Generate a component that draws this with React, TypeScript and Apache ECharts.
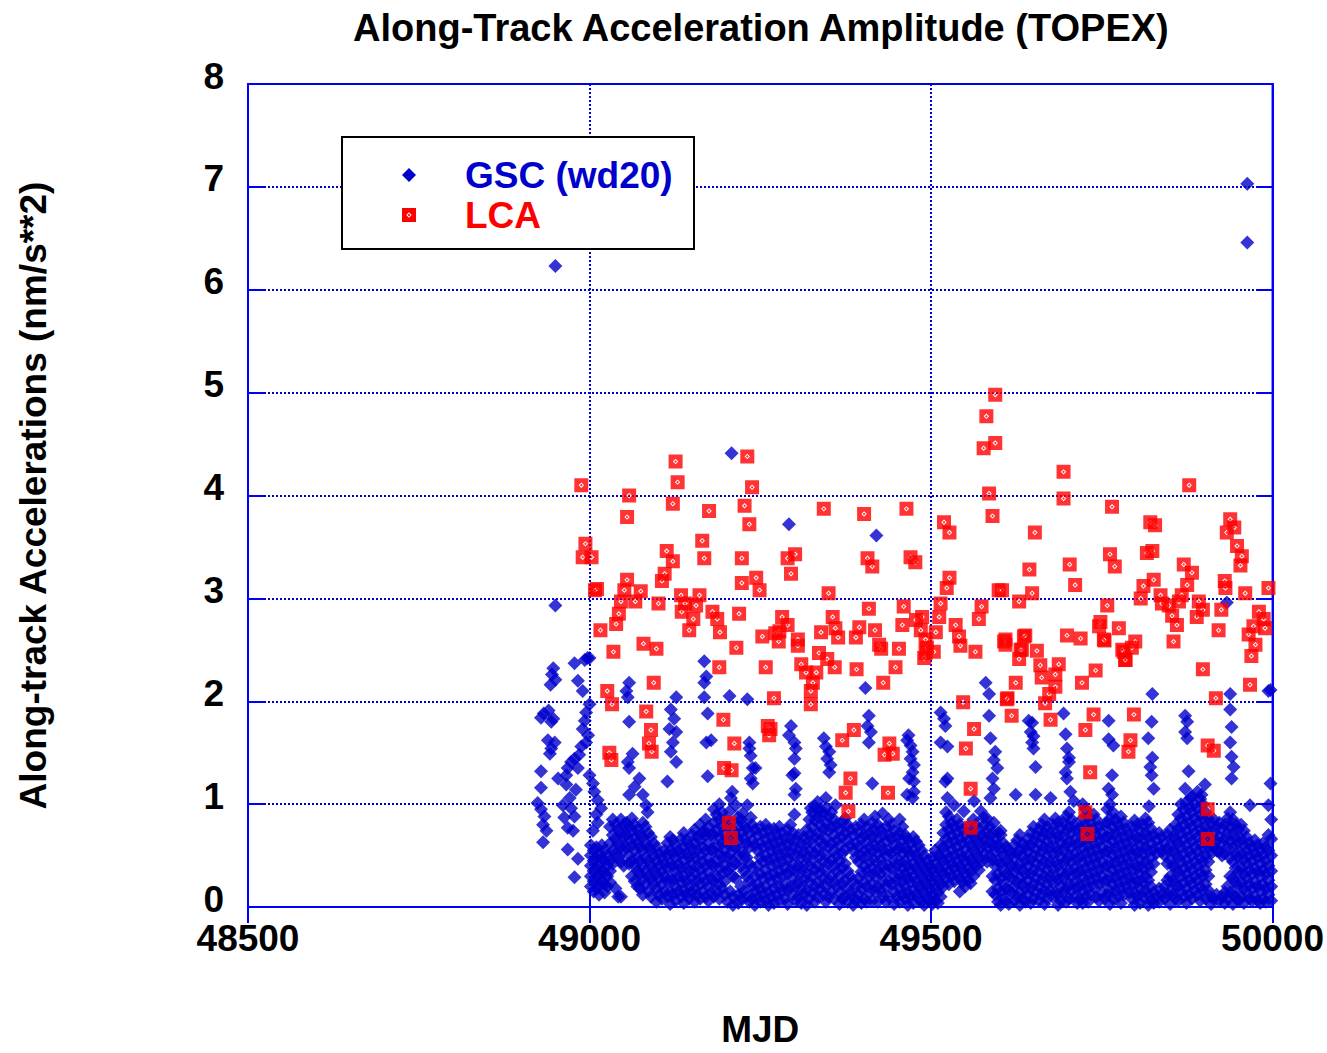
import React, { useEffect, useRef } from "react";
import * as echarts from "echarts";

const FONT = "'Liberation Sans', Arial, Helvetica, sans-serif";
const TITLE = "Along-Track Acceleration Amplitude (TOPEX)";
const X_NAME = "MJD";
const Y_NAME = "Along-track Accelerations (nm/s**2)";
const X_MIN = 48500;
const X_MAX = 50000;
const X_STEP = 500;
const Y_MIN = 0;
const Y_MAX = 8;
const Y_STEP = 1;
const SERIES_NAMES = ["GSC (wd20)", "LCA"];

// GSC (wd20): isolated and mid-band points [MJD, value]
const gscSparse: [number, number][] = [
  [48950, 6.23], [48950, 2.93], [49963, 7.03], [49963, 6.46], [49208, 4.41], [49292, 3.72], [49420, 3.61],
  [49933, 2.96], [49997, 2.11], [49997, 1.2], [49404, 2.13],
  [48947, 2.32], [48945, 2.26], [48950, 2.21], [48943, 2.16], [48933, 1.88], [48940, 1.91], [48947, 1.83],
  [48929, 1.84], [48944, 1.8], [48939, 1.62], [48949, 1.6], [48944, 1.54], [48942, 1.49], [48929, 1.32],
  [48929, 1.16], [48924, 1.01], [48929, 0.95], [48934, 0.88], [48932, 0.8], [48937, 0.74], [48932, 0.63],
  [48978, 2.37], [48997, 2.42], [48983, 2.2], [48990, 2.1], [48954, 1.25], [48966, 1.28], [48966, 1.19],
  [48980, 1.14], [48971, 1.06], [48961, 0.99], [48973, 0.96], [48963, 0.87], [48978, 0.88], [48968, 0.77],
  [48976, 0.74], [48968, 0.56], [48983, 0.47], [48978, 0.29],
  [49000, 2.42], [48993, 2.4], [49000, 1.97], [48995, 1.89], [48993, 1.81], [48990, 1.73], [48998, 1.67],
  [48995, 1.6], [48988, 1.56], [48985, 1.48], [48978, 1.44], [48973, 1.41], [48968, 1.35], [48983, 1.35],
  [49000, 1.28], [49005, 1.2], [49007, 1.12], [49012, 1.04], [49017, 0.96], [49010, 0.9], [49012, 0.82], [49005, 0.74],
  [49058, 2.18], [49054, 2.1], [49056, 2.04], [49058, 1.8], [49063, 1.49], [49056, 1.41], [49058, 1.35],
  [49073, 1.25], [49066, 1.17], [49058, 1.09], [49078, 1.09], [49083, 0.99], [49085, 0.92],
  [49127, 2.04], [49119, 1.92], [49124, 1.83], [49117, 1.73], [49127, 1.7], [49122, 1.6], [49119, 1.51],
  [49127, 1.41], [49114, 1.22],
  [49168, 2.39], [49171, 2.24], [49168, 2.18], [49168, 2.04], [49173, 1.88], [49171, 1.6], [49178, 1.62],
  [49173, 1.27], [49168, 0.74],
  [49205, 2.05], [49231, 2.02], [49234, 1.6], [49234, 1.54], [49236, 1.47], [49243, 1.35], [49239, 1.35],
  [49236, 1.25], [49239, 1.2], [49207, 1.06], [49209, 1.12], [49214, 0.99], [49205, 0.93], [49217, 0.87],
  [49231, 0.99], [49224, 0.91], [49236, 0.87],
  [49295, 1.76], [49292, 1.67], [49300, 1.6], [49302, 1.54], [49300, 1.44], [49300, 1.3], [49297, 1.28],
  [49302, 1.15], [49300, 1.09], [49300, 0.9],
  [49343, 1.64], [49346, 1.56], [49351, 1.51], [49348, 1.44], [49353, 1.38], [49351, 1.31], [49346, 1.06],
  [49324, 0.96], [49336, 0.93], [49360, 0.99],
  [49409, 1.86], [49407, 1.76], [49412, 1.7], [49409, 1.6], [49414, 1.2], [49429, 0.91],
  [49467, 1.67], [49465, 1.62], [49470, 1.57], [49473, 1.51], [49470, 1.44], [49475, 1.38], [49473, 1.31],
  [49468, 1.25], [49475, 1.22], [49475, 1.12], [49465, 1.09], [49473, 1.06],
  [49514, 1.89], [49519, 1.83], [49521, 1.76], [49514, 1.6], [49524, 1.56], [49524, 1.25], [49521, 1.22],
  [49524, 1.06], [49534, 0.99], [49548, 0.93], [49563, 1.03], [49573, 0.93], [49577, 0.87], [49592, 0.82], [49602, 0.74],
  [49580, 2.18], [49585, 2.07], [49585, 1.86], [49587, 1.64], [49594, 1.51], [49592, 1.43], [49597, 1.35],
  [49590, 1.25], [49592, 1.15], [49587, 1.06],
  [49643, 1.81], [49648, 1.79], [49646, 1.7], [49650, 1.66], [49648, 1.6], [49650, 1.54], [49653, 1.36],
  [49624, 1.09], [49653, 1.09], [49675, 1.06],
  [49694, 1.88], [49697, 1.68], [49699, 1.54], [49702, 1.45], [49702, 1.41], [49697, 1.31], [49699, 1.25],
  [49704, 1.12], [49709, 1.03],
  [49824, 2.07], [49938, 2.07], [49994, 2.1], [49760, 1.81], [49760, 1.63], [49767, 1.57], [49765, 1.28],
  [49760, 1.15], [49765, 1.09],
  [49823, 1.8], [49818, 1.64], [49824, 1.45], [49821, 1.36], [49823, 1.28], [49826, 1.15], [49819, 0.98],
  [49872, 1.86], [49875, 1.8], [49872, 1.7], [49875, 1.64], [49877, 1.32], [49872, 1.15], [49880, 1.06],
  [49901, 1.19], [49896, 1.09],
  [49938, 1.92], [49940, 1.75], [49938, 1.6], [49940, 1.46], [49943, 1.36], [49940, 1.25], [49967, 0.99], [49994, 0.99],
];

// GSC (wd20): dense low band, [MJD, values at that MJD]
const gscBand1993: [number, number[]][] = [
  [49002, [0.6, 0.5, 0.4, 0.3, 0.2]], [49006, [0.55, 0.45, 0.35, 0.25, 0.15]], [49010, [0.58, 0.48, 0.38, 0.28, 0.18]],
  [49014, [0.52, 0.42, 0.32, 0.22, 0.12]], [49018, [0.6, 0.47, 0.35, 0.25]], [49022, [0.55, 0.45, 0.33, 0.22, 0.14]],
  [49026, [0.5, 0.4, 0.3, 0.2]], [49030, [0.78, 0.62, 0.45, 0.35, 0.24]], [49034, [0.85, 0.7, 0.55, 0.42]],
  [49038, [0.8, 0.66, 0.52, 0.18]], [49042, [0.75, 0.62, 0.48, 0.1]], [49046, [0.85, 0.72, 0.58, 0.44, 0.1]],
  [49050, [0.8, 0.68, 0.55, 0.4]], [49054, [0.82, 0.7, 0.58]], [49058, [0.78, 0.65, 0.5, 0.42]],
  [49062, [0.86, 0.74, 0.6, 0.45, 0.3]], [49066, [0.8, 0.67, 0.55, 0.4, 0.25]], [49070, [0.75, 0.62, 0.48, 0.35, 0.2]],
  [49074, [0.7, 0.58, 0.45, 0.32, 0.18]], [49078, [0.82, 0.68, 0.55, 0.4, 0.27, 0.12]], [49082, [0.78, 0.62, 0.48, 0.35, 0.22]],
  [49086, [0.72, 0.58, 0.45, 0.3, 0.15]], [49090, [0.68, 0.55, 0.4, 0.27, 0.1]], [49094, [0.62, 0.5, 0.36, 0.22]],
  [49098, [0.58, 0.45, 0.32, 0.18, 0.05]], [49102, [0.52, 0.4, 0.28, 0.12]], [49106, [0.48, 0.35, 0.22, 0.08]],
  [49110, [0.55, 0.42, 0.3, 0.15]], [49114, [0.62, 0.5, 0.38, 0.25, 0.1]], [49118, [0.68, 0.55, 0.42, 0.28, 0.15, 0.03]],
  [49122, [0.65, 0.52, 0.4, 0.26, 0.12]], [49126, [0.6, 0.48, 0.35, 0.2, 0.06]], [49130, [0.55, 0.42, 0.3, 0.15]],
  [49134, [0.66, 0.52, 0.38, 0.24, 0.1]], [49138, [0.72, 0.58, 0.45, 0.3, 0.16, 0.04]], [49142, [0.65, 0.52, 0.38, 0.25, 0.12]],
  [49146, [0.6, 0.48, 0.35, 0.2, 0.08]], [49150, [0.7, 0.56, 0.42, 0.28, 0.14]], [49154, [0.75, 0.62, 0.48, 0.33, 0.18, 0.05]],
  [49158, [0.68, 0.55, 0.4, 0.26, 0.12]], [49162, [0.8, 0.65, 0.5, 0.36, 0.22, 0.08]], [49166, [0.72, 0.58, 0.44, 0.3, 0.15]],
  [49170, [0.85, 0.7, 0.55, 0.4, 0.25, 0.1]], [49174, [0.78, 0.62, 0.48, 0.34, 0.2, 0.06]], [49178, [0.7, 0.56, 0.42, 0.28, 0.14]],
  [49182, [0.95, 0.82, 0.7, 0.55, 0.4, 0.25, 0.1]], [49186, [0.9, 0.75, 0.6, 0.45, 0.3, 0.15]],
  [49190, [1.0, 0.85, 0.68, 0.52, 0.38, 0.22, 0.08]], [49194, [0.92, 0.78, 0.62, 0.48, 0.32, 0.18]],
  [49198, [0.85, 0.7, 0.55, 0.4, 0.25, 0.12]], [49202, [0.78, 0.62, 0.48, 0.35, 0.05]], [49206, [0.82, 0.68, 0.52, 0.38, 0.15]],
  [49210, [0.75, 0.6, 0.45, 0.3, 0.1, 0.02]], [49214, [0.7, 0.58, 0.42, 0.28]], [49218, [0.78, 0.65, 0.5, 0.12, 0.04]],
  [49222, [0.85, 0.72, 0.55, 0.4, 0.2, 0.08]], [49226, [0.8, 0.66, 0.5, 0.35, 0.15]], [49230, [0.76, 0.62, 0.48, 0.3, 0.1]],
  [49234, [0.72, 0.58, 0.42, 0.25, 0.05]], [49238, [0.8, 0.65, 0.38, 0.2, 0.08]], [49242, [0.75, 0.6, 0.3, 0.15, 0.02]],
  [49246, [0.7, 0.55, 0.4, 0.22, 0.1]], [49250, [0.78, 0.62, 0.48, 0.32, 0.18, 0.05]], [49254, [0.72, 0.58, 0.44, 0.28, 0.12]],
  [49258, [0.8, 0.66, 0.5, 0.36, 0.2, 0.06]], [49262, [0.75, 0.6, 0.46, 0.3, 0.14, 0.02]], [49266, [0.68, 0.55, 0.4, 0.25, 0.1]],
  [49270, [0.76, 0.62, 0.48, 0.32, 0.18, 0.04]], [49274, [0.7, 0.56, 0.42, 0.28, 0.12]], [49278, [0.78, 0.64, 0.5, 0.35, 0.2, 0.06]],
  [49282, [0.72, 0.58, 0.44, 0.3, 0.15]], [49286, [0.66, 0.52, 0.38, 0.22, 0.08]], [49290, [0.75, 0.6, 0.46, 0.32, 0.16, 0.03]],
  [49294, [0.8, 0.66, 0.52, 0.36, 0.2]], [49298, [0.72, 0.58, 0.42, 0.28, 0.12]], [49302, [0.65, 0.5, 0.35, 0.2, 0.06]],
  [49306, [0.7, 0.56, 0.4, 0.25, 0.1]], [49310, [0.62, 0.48, 0.34, 0.18, 0.04]], [49314, [0.68, 0.54, 0.4, 0.26, 0.12]],
  [49318, [0.75, 0.62, 0.48, 0.32, 0.16, 0.02]], [49322, [0.85, 0.7, 0.55, 0.4, 0.24, 0.08]],
  [49326, [0.92, 0.78, 0.62, 0.46, 0.3, 0.14]], [49330, [0.98, 0.84, 0.68, 0.52, 0.36, 0.2, 0.05]],
  [49334, [1.02, 0.88, 0.72, 0.56, 0.4, 0.24, 0.1]], [49338, [0.95, 0.8, 0.65, 0.5, 0.34, 0.18]],
  [49342, [0.9, 0.75, 0.6, 0.44, 0.28, 0.12]], [49346, [0.96, 0.82, 0.66, 0.5, 0.35, 0.2, 0.05]],
  [49350, [0.88, 0.74, 0.58, 0.42, 0.26, 0.1]],
];

const gscBand1994: [number, number[]][] = [
  [49354, [0.92, 0.78, 0.62, 0.46, 0.3, 0.15]], [49358, [0.85, 0.7, 0.55, 0.4, 0.24, 0.08]], [49362, [0.8, 0.65, 0.5, 0.35, 0.2]],
  [49366, [0.75, 0.6, 0.45, 0.3, 0.14, 0.03]], [49370, [0.82, 0.68, 0.52, 0.38, 0.22, 0.08]],
  [49374, [0.86, 0.72, 0.56, 0.42, 0.26, 0.1]], [49378, [0.8, 0.65, 0.35, 0.18, 0.05]], [49382, [0.75, 0.6, 0.3, 0.14]],
  [49386, [0.7, 0.55, 0.25, 0.1, 0.02]], [49390, [0.78, 0.62, 0.48, 0.2, 0.06]], [49394, [0.72, 0.58, 0.44, 0.28, 0.12]],
  [49398, [0.8, 0.66, 0.5, 0.34, 0.18, 0.04]], [49402, [0.85, 0.7, 0.55, 0.4, 0.24, 0.08]],
  [49406, [0.78, 0.64, 0.5, 0.35, 0.2, 0.05]], [49410, [0.72, 0.58, 0.44, 0.3, 0.14]],
  [49414, [0.82, 0.68, 0.54, 0.38, 0.22, 0.06]], [49418, [0.88, 0.74, 0.6, 0.45, 0.3, 0.15]],
  [49422, [0.8, 0.66, 0.52, 0.36, 0.2, 0.05]], [49426, [0.75, 0.6, 0.46, 0.32, 0.16]], [49430, [0.7, 0.55, 0.4, 0.25, 0.1]],
  [49434, [0.78, 0.64, 0.5, 0.35, 0.2, 0.05]], [49438, [0.85, 0.7, 0.55, 0.4, 0.25, 0.1]], [49442, [0.8, 0.66, 0.52, 0.38, 0.22]],
  [49446, [0.74, 0.6, 0.45, 0.3, 0.15, 0.03]], [49450, [0.68, 0.55, 0.4, 0.26, 0.1]],
  [49454, [0.85, 0.72, 0.58, 0.45, 0.32, 0.18, 0.05]], [49458, [0.78, 0.65, 0.52, 0.38, 0.25, 0.12]],
  [49462, [0.7, 0.58, 0.45, 0.32, 0.2, 0.08]], [49466, [0.66, 0.54, 0.4, 0.28, 0.14, 0.02]], [49470, [0.62, 0.5, 0.36, 0.24, 0.1]],
  [49474, [0.68, 0.55, 0.42, 0.3, 0.16, 0.04]], [49478, [0.64, 0.5, 0.38, 0.25, 0.12]], [49482, [0.6, 0.46, 0.34, 0.2, 0.08]],
  [49486, [0.55, 0.42, 0.3, 0.18, 0.05]], [49490, [0.5, 0.38, 0.26, 0.14, 0.02]], [49494, [0.45, 0.34, 0.22, 0.1]],
  [49498, [0.4, 0.3, 0.18, 0.06]], [49502, [0.48, 0.36, 0.24, 0.12, 0.03]], [49506, [0.55, 0.42, 0.3, 0.18, 0.06]],
  [49510, [0.5, 0.38, 0.26, 0.14, 0.04]], [49514, [0.6, 0.48, 0.35, 0.22, 0.1]], [49518, [0.72, 0.58, 0.45, 0.32, 0.2]],
  [49522, [0.92, 0.8, 0.66, 0.52, 0.4, 0.28]], [49526, [0.88, 0.75, 0.62, 0.48, 0.35, 0.22]], [49530, [0.82, 0.7, 0.56, 0.42, 0.3]],
  [49534, [0.78, 0.64, 0.5, 0.38, 0.25]], [49538, [0.85, 0.72, 0.58, 0.44, 0.32]], [49542, [0.8, 0.66, 0.52, 0.4, 0.28, 0.15]],
  [49546, [0.75, 0.62, 0.48, 0.36, 0.24]], [49550, [0.7, 0.56, 0.44, 0.32, 0.2]], [49554, [0.78, 0.64, 0.5, 0.38, 0.26]],
  [49558, [0.72, 0.6, 0.46, 0.34, 0.23]], [49562, [0.85, 0.7, 0.56, 0.42, 0.3]], [49566, [0.8, 0.66, 0.52, 0.4]],
  [49570, [0.75, 0.62, 0.48, 0.36]], [49574, [0.7, 0.58, 0.44]], [49578, [0.8, 0.66, 0.52]], [49582, [0.86, 0.72, 0.58, 0.44]],
  [49586, [0.78, 0.64, 0.5]], [49590, [0.72, 0.6, 0.46, 0.3, 0.15]], [49594, [0.66, 0.54, 0.4, 0.26, 0.12]],
  [49598, [0.72, 0.6, 0.45, 0.32, 0.18, 0.05]], [49602, [0.7, 0.55, 0.42, 0.28, 0.14, 0.02]], [49606, [0.62, 0.5, 0.36, 0.22, 0.08]],
  [49610, [0.58, 0.46, 0.32, 0.18, 0.05]], [49614, [0.55, 0.42, 0.3, 0.16, 0.03]], [49618, [0.52, 0.4, 0.28, 0.14]],
  [49622, [0.6, 0.48, 0.34, 0.2, 0.06]], [49626, [0.65, 0.52, 0.38, 0.24, 0.1]], [49630, [0.7, 0.56, 0.42, 0.28, 0.14, 0.02]],
  [49634, [0.62, 0.5, 0.36, 0.22, 0.08]], [49638, [0.58, 0.45, 0.32, 0.18, 0.05]], [49642, [0.66, 0.54, 0.4, 0.26, 0.12]],
  [49646, [0.72, 0.6, 0.46, 0.32, 0.18, 0.04]], [49650, [0.78, 0.64, 0.5, 0.36, 0.22, 0.08]], [49654, [0.7, 0.56, 0.42, 0.28, 0.14]],
  [49658, [0.75, 0.62, 0.48, 0.34, 0.2, 0.06]], [49662, [0.8, 0.68, 0.54, 0.4, 0.26, 0.12]],
  [49666, [0.85, 0.72, 0.58, 0.44, 0.3, 0.16, 0.03]], [49670, [0.78, 0.64, 0.5, 0.36, 0.22, 0.08]],
  [49674, [0.72, 0.58, 0.44, 0.3, 0.16]], [49678, [0.8, 0.66, 0.52, 0.38, 0.24, 0.1]], [49682, [0.86, 0.72, 0.58, 0.44, 0.3, 0.14]],
  [49686, [0.82, 0.68, 0.54, 0.4, 0.26, 0.12, 0.02]], [49690, [0.76, 0.62, 0.48, 0.34, 0.2, 0.06]],
  [49694, [0.82, 0.68, 0.55, 0.42, 0.28, 0.14]], [49698, [0.88, 0.74, 0.6, 0.46, 0.32, 0.18, 0.05]],
  [49702, [0.92, 0.78, 0.64, 0.5, 0.36, 0.22, 0.08]], [49706, [0.85, 0.72, 0.58, 0.44, 0.3, 0.16]],
  [49710, [0.8, 0.66, 0.52, 0.38, 0.24, 0.1]], [49714, [0.74, 0.6, 0.46, 0.32, 0.18, 0.04]],
];

const gscBand1995: [number, number[]][] = [
  [49718, [0.78, 0.64, 0.5, 0.36, 0.22, 0.08]], [49722, [1.0, 0.86, 0.72, 0.58, 0.44, 0.3, 0.16, 0.04]],
  [49726, [0.95, 0.8, 0.66, 0.52, 0.38, 0.24, 0.1]], [49730, [0.88, 0.74, 0.6, 0.46, 0.32, 0.18, 0.05]],
  [49734, [0.82, 0.68, 0.54, 0.4, 0.26, 0.12]], [49738, [0.9, 0.76, 0.62, 0.48, 0.34, 0.2]],
  [49742, [0.85, 0.7, 0.56, 0.42, 0.28, 0.1]], [49746, [0.78, 0.64, 0.5, 0.36, 0.22, 0.06]], [49750, [0.72, 0.58, 0.44, 0.3, 0.14]],
  [49754, [0.8, 0.66, 0.52, 0.38, 0.24, 0.08]], [49758, [0.95, 0.82, 0.68, 0.54, 0.4, 0.26, 0.12]],
  [49762, [1.0, 0.86, 0.72, 0.58, 0.44, 0.3, 0.16, 0.03]], [49766, [0.92, 0.78, 0.64, 0.5, 0.36, 0.22, 0.08]],
  [49770, [0.85, 0.72, 0.58, 0.44, 0.3, 0.16]], [49774, [0.8, 0.66, 0.52, 0.38, 0.24, 0.1]],
  [49778, [0.88, 0.74, 0.6, 0.46, 0.32, 0.18, 0.04]], [49782, [0.82, 0.68, 0.54, 0.4, 0.26, 0.12]],
  [49786, [0.76, 0.62, 0.48, 0.34, 0.2]], [49790, [0.7, 0.56, 0.42, 0.28, 0.14]], [49794, [0.78, 0.64, 0.5, 0.36, 0.22, 0.08]],
  [49798, [0.84, 0.7, 0.56, 0.42, 0.28, 0.14, 0.02]], [49802, [0.8, 0.66, 0.52, 0.38, 0.24, 0.1]],
  [49806, [0.74, 0.6, 0.46, 0.32, 0.18, 0.04]], [49810, [0.8, 0.66, 0.52, 0.38, 0.24, 0.1]],
  [49814, [0.86, 0.72, 0.58, 0.44, 0.3, 0.16]], [49818, [0.82, 0.68, 0.54, 0.4, 0.26, 0.12, 0.02]],
  [49822, [0.76, 0.62, 0.48, 0.34, 0.2, 0.06]], [49826, [0.7, 0.56, 0.42, 0.14, 0.04]], [49830, [0.65, 0.52, 0.1]],
  [49834, [0.72, 0.58, 0.18, 0.05]], [49838, [0.68, 0.54, 0.12]], [49842, [0.62, 0.5, 0.2, 0.08]],
  [49846, [0.7, 0.56, 0.42, 0.26, 0.12]], [49850, [0.75, 0.6, 0.46, 0.3, 0.16, 0.03]], [49854, [0.68, 0.55, 0.4, 0.26, 0.12]],
  [49858, [0.8, 0.66, 0.52, 0.38, 0.22, 0.08]], [49862, [0.9, 0.76, 0.62, 0.48, 0.34, 0.2, 0.06]],
  [49866, [1.0, 0.86, 0.72, 0.58, 0.44, 0.3, 0.15]], [49870, [0.95, 0.8, 0.66, 0.52, 0.38, 0.24, 0.1]],
  [49874, [1.02, 0.88, 0.74, 0.6, 0.46, 0.32, 0.18, 0.04]], [49878, [0.96, 0.82, 0.68, 0.54, 0.4, 0.26, 0.12]],
  [49882, [1.08, 0.92, 0.78, 0.64, 0.5, 0.36, 0.22, 0.08]], [49886, [1.0, 0.86, 0.72, 0.58, 0.44, 0.3, 0.16]],
  [49890, [1.12, 0.96, 0.82, 0.68, 0.54, 0.4, 0.26, 0.12]], [49894, [1.05, 0.9, 0.76, 0.62, 0.48, 0.34, 0.2, 0.06]],
  [49898, [1.0, 0.86, 0.72, 0.58, 0.44, 0.3, 0.16]], [49902, [0.92, 0.78, 0.64, 0.5, 0.36, 0.22, 0.08]],
  [49906, [0.86, 0.72, 0.58, 0.44, 0.3, 0.16]], [49910, [0.8, 0.66, 0.52, 0.1, 0.03]], [49914, [0.85, 0.72, 0.58, 0.08]],
  [49918, [0.78, 0.64, 0.55, 0.12]], [49922, [0.82, 0.68, 0.54, 0.06]], [49926, [0.76, 0.62, 0.5, 0.1]],
  [49930, [0.8, 0.66, 0.52, 0.14, 0.04]], [49934, [0.86, 0.72, 0.58, 0.2, 0.08]], [49938, [0.92, 0.78, 0.64, 0.48, 0.3, 0.14]],
  [49942, [0.85, 0.72, 0.58, 0.44, 0.28, 0.12, 0.03]], [49946, [0.8, 0.66, 0.52, 0.38, 0.24, 0.1]],
  [49950, [0.75, 0.62, 0.48, 0.34, 0.2, 0.06]], [49954, [0.8, 0.66, 0.52, 0.38, 0.24, 0.1]],
  [49958, [0.74, 0.6, 0.46, 0.32, 0.18, 0.04]], [49962, [0.68, 0.55, 0.42, 0.28, 0.14]], [49966, [0.62, 0.5, 0.36, 0.22, 0.08]],
  [49970, [0.58, 0.45, 0.32, 0.18, 0.06]], [49974, [0.65, 0.52, 0.38, 0.24, 0.1]], [49978, [0.6, 0.48, 0.34, 0.2, 0.06]],
  [49982, [0.55, 0.42, 0.3, 0.16, 0.04]], [49986, [0.62, 0.5, 0.36, 0.22, 0.08]], [49990, [0.58, 0.45, 0.32, 0.18, 0.05]],
  [49994, [0.7, 0.55, 0.4, 0.26, 0.12]], [49998, [0.85, 0.66, 0.5, 0.35, 0.2, 0.06]],
];

// LCA points [MJD, value]
const lca1993: [number, number][] = [
  [48988, 4.1], [48994, 3.53], [48990, 3.4], [49003, 3.4], [49011, 3.09], [49008, 3.08], [49016, 2.69], [49035, 2.48],
  [49026, 2.1], [49033, 1.97], [49029, 1.5], [49032, 1.43],
  [49058, 4.0], [49055, 3.79], [49126, 4.33], [49129, 4.13], [49122, 3.92], [49175, 3.85], [49231, 4.38], [49238, 4.08],
  [49227, 3.9], [49234, 3.72], [49165, 3.56], [49168, 3.39], [49113, 3.46], [49122, 3.36], [49110, 3.24], [49106, 3.17],
  [49223, 3.39], [49223, 3.15], [49244, 3.2], [49249, 3.08], [49290, 3.39], [49301, 3.43], [49295, 3.24],
  [49055, 3.18], [49051, 3.08], [49075, 3.07], [49067, 2.97], [49046, 2.97], [49043, 2.85], [49039, 2.75], [49101, 2.95],
  [49134, 3.03], [49161, 3.03], [49140, 2.95], [49156, 2.93], [49135, 2.87], [49152, 2.8], [49146, 2.69], [49180, 2.87],
  [49187, 2.8], [49191, 2.67], [49219, 2.85], [49253, 2.63], [49282, 2.82], [49290, 2.74], [49278, 2.68], [49305, 2.6],
  [49079, 2.56], [49098, 2.51], [49190, 2.33], [49215, 2.52], [49258, 2.33], [49270, 2.03], [49094, 2.18], [49083, 1.9],
  [49090, 1.72], [49087, 1.59], [49091, 1.51], [49196, 1.82], [49212, 1.59], [49197, 1.35], [49208, 1.33], [49204, 0.82],
  [49207, 0.67], [49261, 1.76], [49265, 1.73], [49263, 1.67],
  [49343, 3.87], [49350, 3.05], [49272, 2.66], [49277, 2.58], [49305, 2.54], [49310, 2.36], [49317, 2.28], [49332, 2.28],
  [49327, 2.18], [49324, 2.1], [49324, 1.97], [49336, 2.47], [49348, 2.41], [49339, 2.67],
];

const lca1994: [number, number][] = [
  [49359, 2.33], [49356, 2.82], [49360, 2.71], [49364, 2.62], [49391, 2.31], [49390, 2.62], [49395, 2.72], [49409, 2.9],
  [49418, 2.69], [49424, 2.55], [49427, 2.51], [49453, 2.51], [49448, 2.33], [49430, 2.18],
  [49402, 3.82], [49464, 3.87], [49407, 3.39], [49414, 3.31], [49470, 3.4], [49477, 3.35],
  [49460, 2.92], [49458, 2.74], [49478, 2.79], [49487, 2.82], [49485, 2.69], [49492, 2.6], [49490, 2.42], [49494, 2.52],
  [49492, 2.47], [49504, 2.48], [49507, 2.67], [49514, 2.95], [49512, 2.82],
  [49519, 3.74], [49527, 3.64], [49527, 3.2], [49523, 3.1], [49577, 4.46], [49594, 4.51], [49585, 4.02], [49590, 3.8],
  [49594, 4.98], [49581, 4.77], [49599, 3.08],
  [49536, 2.74], [49541, 2.63], [49543, 2.54], [49565, 2.48], [49547, 1.99], [49563, 1.73], [49551, 1.54], [49558, 1.15],
  [49558, 0.77], [49574, 2.92], [49570, 2.8], [49609, 2.6], [49609, 2.55], [49611, 2.02], [49618, 1.86],
  [49387, 1.72], [49370, 1.62], [49439, 1.59], [49444, 1.49], [49432, 1.48], [49382, 1.25], [49375, 1.11], [49437, 1.11],
  [49379, 0.93],
  [49694, 4.23], [49694, 3.97], [49652, 3.64], [49644, 3.28], [49703, 3.33], [49711, 3.13],
  [49604, 3.08], [49629, 2.97], [49648, 3.05], [49607, 2.58], [49638, 2.64], [49631, 2.5], [49629, 2.41], [49655, 2.49],
  [49660, 2.35], [49687, 2.36], [49662, 2.23], [49682, 2.26], [49682, 2.14], [49673, 2.07], [49667, 1.98], [49624, 2.18],
  [49612, 2.03], [49675, 1.82], [49699, 2.64], [49636, 2.63], [49633, 2.5],
];

const lca1995: [number, number][] = [
  [49719, 2.61], [49721, 2.18], [49741, 2.3], [49748, 2.77], [49746, 2.73], [49754, 2.59], [49775, 2.71], [49758, 2.93],
  [49780, 2.5], [49784, 2.4], [49799, 2.58], [49794, 2.52], [49738, 1.87], [49797, 1.87], [49726, 1.72], [49792, 1.62],
  [49789, 1.51], [49733, 1.31], [49726, 0.92], [49729, 0.71],
  [49765, 3.89], [49878, 4.1], [49762, 3.43], [49769, 3.31], [49821, 3.74], [49828, 3.71], [49816, 3.44], [49824, 3.46],
  [49870, 3.33], [49882, 3.25], [49875, 3.13], [49867, 3.03], [49826, 3.18], [49811, 3.12], [49807, 3.0], [49836, 3.03],
  [49838, 2.95], [49848, 2.93], [49853, 2.83], [49863, 2.97], [49860, 2.74], [49855, 2.58], [49892, 2.97], [49898, 2.89],
  [49889, 2.82], [49898, 2.31], [49930, 3.17], [49931, 3.1], [49925, 2.89], [49921, 2.69], [49938, 3.77], [49944, 3.69],
  [49933, 3.64], [49948, 3.51], [49955, 3.41], [49953, 3.32], [49960, 3.05], [49994, 3.1], [49980, 2.87], [49987, 2.8],
  [49972, 2.73], [49989, 2.71], [49965, 2.65], [49975, 2.55], [49969, 2.44], [49967, 2.16], [49917, 2.03], [49905, 1.57],
  [49914, 1.52], [49905, 0.95], [49905, 0.66], [49753, 2.6], [49782, 2.48], [49785, 2.4],
];

const BLUE_MARK = "#0000cc";
const RED_MARK = "#ff0000";
const FRAME = "#0000ff";
// red square with a small white ring and a red centre
const LCA_SYMBOL =
  "path://M0,0L14,0L14,14L0,14Z M7,4.3L4.3,7L7,9.7L9.7,7Z M7,5.6L8.4,7L7,8.4L5.6,7Z";

function expand(band: [number, number[]][]): [number, number][] {
  const out: [number, number][] = [];
  band.forEach(([d, vs]) => vs.forEach((v) => out.push([d, v])));
  return out;
}

const gscData = [...gscSparse, ...expand(gscBand1993), ...expand(gscBand1994), ...expand(gscBand1995)];
const lcaData = [...lca1993, ...lca1994, ...lca1995];

const labelStyle = { fontFamily: FONT, fontSize: 37, fontWeight: "bold" as const, color: "#000" };

export default function App() {
  const ref = useRef<HTMLDivElement>(null);
  useEffect(() => {
    if (!ref.current) return;
    const chart = echarts.init(ref.current, null, { renderer: "svg" });
    const tickStyle = { color: FRAME, width: 2 };
    const gridLine = { color: BLUE_MARK, width: 2, type: [2, 2] };
    chart.setOption({
      animation: false,
      backgroundColor: "#ffffff",
      title: {
        text: TITLE,
        left: 348,
        top: 4,
        textStyle: { fontFamily: FONT, fontSize: 38, fontWeight: "bold", color: "#000" },
      },
      grid: {
        left: 248, top: 84, width: 1026, height: 833,
        show: true, borderColor: FRAME, borderWidth: 2, backgroundColor: "transparent",
      },
      xAxis: [
        {
          type: "value", min: X_MIN, max: X_MAX, interval: X_STEP, position: "bottom",
          name: X_NAME, nameLocation: "middle", nameGap: 104, nameTextStyle: labelStyle,
          axisLine: { show: true, lineStyle: tickStyle },
          axisTick: { show: true, inside: true, length: 16, lineStyle: tickStyle },
          axisLabel: { ...labelStyle, margin: 13, showMinLabel: true, showMaxLabel: true, formatter: (v: number) => String(v) },
          splitLine: { show: true, lineStyle: gridLine },
        },
        {
          type: "value", min: X_MIN, max: X_MAX, interval: X_STEP, position: "top",
          axisLine: { show: true, lineStyle: tickStyle },
          axisTick: { show: true, inside: true, length: 16, lineStyle: tickStyle },
          axisLabel: { show: false }, splitLine: { show: false },
        },
      ],
      yAxis: [
        {
          type: "value", min: Y_MIN, max: Y_MAX, interval: Y_STEP, position: "left",
          name: Y_NAME, nameLocation: "middle", nameGap: 196, nameTextStyle: labelStyle,
          axisLine: { show: true, lineStyle: tickStyle },
          axisTick: { show: true, inside: true, length: 16, lineStyle: tickStyle },
          axisLabel: {
            ...labelStyle, margin: 24, verticalAlign: "bottom", lineHeight: 16,
            showMinLabel: true, showMaxLabel: true,
          },
          splitLine: { show: true, lineStyle: gridLine },
        },
        {
          type: "value", min: Y_MIN, max: Y_MAX, interval: Y_STEP, position: "right",
          axisLine: { show: true, lineStyle: tickStyle },
          axisTick: { show: true, inside: true, length: 16, lineStyle: tickStyle },
          axisLabel: { show: false }, splitLine: { show: false },
        },
      ],
      series: [
        {
          type: "scatter", name: SERIES_NAMES[0], data: gscData, xAxisIndex: 0, yAxisIndex: 0,
          symbol: "diamond", symbolSize: 14, itemStyle: { color: BLUE_MARK }, z: 2,
        },
        {
          type: "scatter", name: SERIES_NAMES[1], data: lcaData, xAxisIndex: 0, yAxisIndex: 0,
          symbol: LCA_SYMBOL, symbolSize: 14, itemStyle: { color: RED_MARK }, z: 3,
        },
      ],
      graphic: [
        {
          type: "rect", z: 100,
          shape: { x: 342, y: 137, width: 352, height: 112 },
          style: { fill: "#ffffff", stroke: "#000000", lineWidth: 2 },
        },
        {
          type: "polygon", z: 101,
          shape: { points: [[409, 168], [416, 175], [409, 182], [402, 175]] },
          style: { fill: BLUE_MARK },
        },
        {
          type: "rect", z: 101,
          shape: { x: 402, y: 208, width: 14, height: 14 },
          style: { fill: RED_MARK },
        },
        {
          type: "polygon", z: 102,
          shape: { points: [[409, 212.3], [406.3, 215], [409, 217.7], [411.7, 215]] },
          style: { fill: "#ffffff" },
        },
        {
          type: "polygon", z: 103,
          shape: { points: [[409, 213.6], [407.6, 215], [409, 216.4], [410.4, 215]] },
          style: { fill: RED_MARK },
        },
        {
          type: "text", z: 101, x: 465, y: 175,
          style: { text: SERIES_NAMES[0], fill: BLUE_MARK, fontFamily: FONT, fontSize: 37, fontWeight: "bold", verticalAlign: "middle" },
        },
        {
          type: "text", z: 101, x: 465, y: 215,
          style: { text: SERIES_NAMES[1], fill: RED_MARK, fontFamily: FONT, fontSize: 37, fontWeight: "bold", verticalAlign: "middle" },
        },
      ],
    });
    return () => chart.dispose();
  }, []);
  return (
    <div
      ref={ref}
      style={{ position: "fixed", left: 0, top: 0, width: 1327, height: 1053, background: "#fff" }}
    />
  );
}
